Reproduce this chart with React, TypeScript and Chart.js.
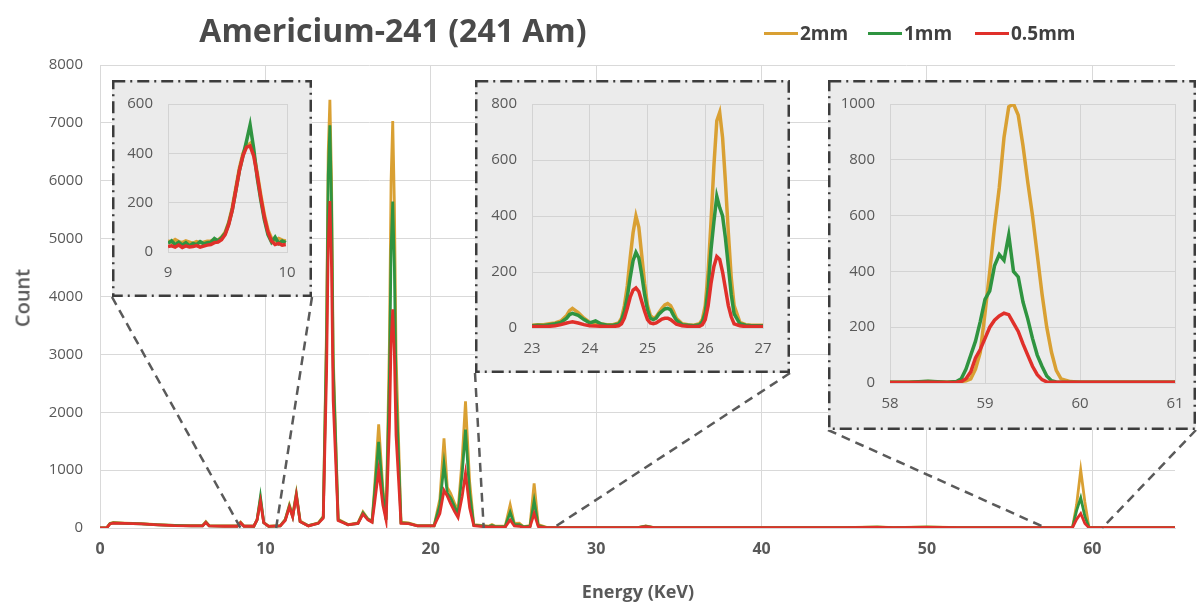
import React, { useEffect, useRef } from 'react';
import { Chart, registerables } from 'chart.js';
Chart.register(...registerables);

// ---------- Main spectrum (energy in keV, counts) ----------
const energyKeV = [
  0, 0.4, 0.6, 0.8, 1.5, 2.5, 3.5, 4.5, 5.5, 6.2,
  6.4, 6.6, 7.5, 8.3, 8.5, 8.7, 9.3, 9.5, 9.7, 9.9,
  10.2, 10.9, 11.2, 11.45, 11.65, 11.87, 12.1, 12.6, 13.2, 13.5,
  13.7, 13.8, 13.9, 14.0, 14.1, 14.4, 15.0, 15.6, 15.9, 16.2,
  16.45, 16.6, 16.85, 17.1, 17.3, 17.5, 17.6, 17.7, 17.8, 17.9,
  18.2, 18.65, 19.2, 20.2, 20.55, 20.8, 21.0, 21.2, 21.45, 21.65,
  21.9, 22.1, 22.35, 22.6, 23.5, 23.7, 23.9, 24.5, 24.8, 25.05,
  25.35, 25.6, 26.0, 26.25, 26.5, 27.0, 32.5, 33.0, 33.5, 45,
  47, 48, 50, 52, 55, 58.8, 59.05, 59.3, 59.55, 59.8,
  65,
];
const count2mm = [
  0, 0, 80, 95, 85, 75, 60, 45, 40, 40,
  110, 40, 35, 35, 100, 35, 30, 150, 500, 100,
  30, 40, 150, 400, 220, 600, 120, 40, 90, 200,
  3500, 6500, 7400, 6000, 3000, 150, 60, 90, 280, 160,
  120, 700, 1790, 700, 150, 3200, 6000, 7030, 5600, 3000,
  100, 90, 40, 40, 500, 1550, 700, 600, 420, 300,
  1200, 2190, 800, 60, 30, 60, 30, 30, 400, 80,
  85, 25, 40, 770, 60, 10, 5, 35, 5, 5,
  20, 5, 20, 5, 5, 5, 400, 1000, 450, 10,
  5,
];
const count1mm = [
  0, 0, 75, 90, 80, 70, 55, 45, 38, 38,
  100, 38, 32, 32, 90, 32, 30, 140, 540, 90,
  28, 35, 140, 380, 200, 580, 110, 40, 80, 190,
  3300, 6100, 6960, 5600, 2800, 140, 55, 80, 260, 150,
  110, 600, 1490, 600, 140, 2600, 4800, 5640, 4500, 2400,
  90, 80, 35, 35, 400, 1100, 600, 520, 360, 250,
  950, 1700, 600, 50, 25, 45, 25, 25, 270, 60,
  60, 20, 30, 470, 40, 8, 5, 30, 5, 5,
  15, 5, 15, 5, 5, 5, 300, 520, 200, 8,
  5,
];
const count05mm = [
  0, 0, 70, 85, 80, 70, 55, 40, 35, 35,
  95, 35, 30, 30, 90, 30, 30, 140, 460, 90,
  28, 35, 130, 360, 190, 560, 110, 35, 80, 170,
  2700, 4900, 5650, 4500, 2200, 130, 55, 80, 240, 140,
  100, 420, 1000, 400, 130, 1750, 3200, 3780, 3000, 1600,
  80, 75, 35, 35, 250, 650, 550, 420, 280, 180,
  550, 950, 350, 40, 15, 25, 15, 15, 140, 35,
  30, 10, 20, 250, 25, 5, 5, 25, 5, 5,
  10, 5, 12, 5, 5, 5, 150, 250, 80, 5,
  5,
];

// ---------- Inset 1: 9–10 keV ----------
const inset1Energy = [
  9.00, 9.03, 9.06, 9.09, 9.12, 9.15, 9.18, 9.21, 9.24, 9.27,
  9.30, 9.33, 9.36, 9.39, 9.42, 9.45, 9.48, 9.51, 9.54, 9.57,
  9.60, 9.63, 9.66, 9.69, 9.72, 9.75, 9.78, 9.81, 9.84, 9.87,
  9.90, 9.93, 9.96, 9.99,
];
const inset1Count2mm = [
  45, 40, 50, 42, 38, 45, 40, 35, 42, 38,
  40, 44, 45, 50, 48, 60, 80, 120, 180, 260,
  340, 400, 430, 440, 400, 320, 230, 150, 90, 55,
  45, 55, 48, 45,
];
const inset1Count1mm = [
  35, 45, 30, 40, 28, 38, 25, 35, 30, 42,
  33, 38, 40, 55, 45, 58, 75, 115, 170, 250,
  330, 390, 450, 515, 420, 300, 210, 130, 70, 40,
  60, 35, 45, 38,
];
const inset1Count05mm = [
  22, 25, 20, 28, 18, 25, 20, 22, 26, 20,
  24, 28, 30, 38, 40, 50, 70, 110, 170, 250,
  330, 390, 425, 430, 390, 310, 220, 140, 80, 45,
  30, 35, 28, 30,
];

// ---------- Inset 2: 23–27 keV ----------
const inset2Energy = [
  23.0, 23.1, 23.2, 23.3, 23.4, 23.5, 23.6, 23.65, 23.7, 23.8,
  23.9, 24.0, 24.1, 24.2, 24.3, 24.4, 24.5, 24.55, 24.6, 24.65,
  24.7, 24.75, 24.8, 24.85, 24.9, 24.95, 25.0, 25.05, 25.1, 25.15,
  25.2, 25.25, 25.3, 25.35, 25.4, 25.45, 25.5, 25.6, 25.7, 25.8,
  25.9, 25.95, 26.0, 26.05, 26.1, 26.15, 26.2, 26.25, 26.3, 26.35,
  26.4, 26.45, 26.5, 26.6, 26.7, 26.8, 26.9, 27.0,
];
const inset2Count2mm = [
  10, 12, 12, 15, 18, 25, 45, 62, 70, 55,
  35, 20, 15, 14, 12, 12, 18, 35, 80, 150,
  250, 340, 400, 360, 260, 160, 80, 45, 35, 40,
  55, 70, 82, 87, 80, 60, 35, 15, 12, 10,
  15, 30, 80, 200, 380, 580, 740, 770, 680, 520,
  340, 180, 80, 20, 12, 10, 10, 10,
];
const inset2Count1mm = [
  8, 10, 9, 12, 15, 20, 35, 48, 52, 45,
  30, 18, 25, 14, 10, 10, 14, 28, 60, 110,
  180, 240, 270, 250, 190, 120, 65, 35, 30, 35,
  50, 60, 68, 70, 65, 45, 28, 12, 10, 8,
  12, 22, 55, 140, 280, 380, 470, 430, 400, 320,
  220, 120, 50, 15, 10, 8, 8, 8,
];
const inset2Count05mm = [
  5, 5, 5, 6, 8, 12, 18, 20, 22, 18,
  12, 8, 7, 6, 5, 5, 8, 15, 35, 70,
  110, 135, 143, 130, 95, 60, 30, 18, 15, 18,
  25, 32, 35, 35, 30, 22, 14, 8, 6, 5,
  6, 12, 30, 80, 160, 220, 255, 245, 200, 140,
  80, 40, 15, 8, 5, 5, 5, 5,
];

// ---------- Inset 3: 58–61 keV ----------
const inset3Energy = [
  58.0, 58.2, 58.4, 58.6, 58.7, 58.75, 58.8, 58.85, 58.9, 58.95,
  59.0, 59.05, 59.1, 59.15, 59.2, 59.25, 59.3, 59.35, 59.4, 59.45,
  59.5, 59.55, 59.6, 59.65, 59.7, 59.75, 59.8, 59.9, 60.0, 60.5,
  61.0,
];
const inset3Count2mm = [
  3, 3, 5, 3, 3, 5, 8, 15, 50, 110,
  250, 400, 560, 700, 880, 990, 1000, 960, 850, 720,
  600, 460, 320, 200, 110, 45, 15, 5, 3, 3,
  3,
];
const inset3Count1mm = [
  3, 3, 6, 3, 5, 15, 50, 100, 150, 220,
  300, 330, 420, 460, 440, 530, 400, 380, 290, 230,
  160, 100, 60, 25, 8, 4, 3, 3, 3, 3,
  3,
];
const inset3Count05mm = [
  2, 2, 3, 2, 3, 5, 15, 40, 90, 120,
  160, 200, 225, 240, 250, 245, 215, 185, 140, 100,
  60, 30, 12, 4, 3, 3, 3, 3, 3, 3,
  3,
];

const seriesNames = ['2mm', '1mm', '0.5mm'];
const seriesColors = ['#D9A033', '#2F9440', '#E0302A'];

const mainXRange = [0, 65];
const mainYRange = [0, 8000];
const inset1Range = { x: [9, 10], y: [0, 600] };
const inset2Range = { x: [23, 27], y: [0, 800] };
const inset3Range = { x: [58, 61], y: [0, 1000] };
// energies where the dashed zoom connectors meet the main axis
const inset1Anchor = [8.5, 10.65];
const inset2Anchor = [23.2, 27.4];
const inset3Anchor = [57.2, 60.6];

const FONT = '"Open Sans", "DejaVu Sans", sans-serif';
const TEXT = '#595959';

type Box = { left: number; top: number; width: number; height: number };
type Pad = { left: number; right: number; top: number; bottom: number };

const insets = [
  {
    energy: inset1Energy, c: [inset1Count2mm, inset1Count1mm, inset1Count05mm], range: inset1Range, anchor: inset1Anchor,
    box: { left: 112, top: 80, width: 200, height: 217 } as Box, pad: { left: 56, right: 25, top: 20, bottom: 45 } as Pad,
  },
  {
    energy: inset2Energy, c: [inset2Count2mm, inset2Count1mm, inset2Count05mm], range: inset2Range, anchor: inset2Anchor,
    box: { left: 475, top: 80, width: 315, height: 293 } as Box, pad: { left: 57, right: 27, top: 19, bottom: 45 } as Pad,
  },
  {
    energy: inset3Energy, c: [inset3Count2mm, inset3Count1mm, inset3Count05mm], range: inset3Range, anchor: inset3Anchor,
    box: { left: 828, top: 80, width: 368, height: 350 } as Box, pad: { left: 62, right: 21, top: 20, bottom: 47 } as Pad,
  },
];

const pts = (xs: number[], ys: number[]) => xs.map((x, i) => ({ x, y: ys[i] }));
const plainTick = (v: any) => String(v);

// dataset 0 is drawn last (on top): order red, green, orange
function buildDatasets(xs: number[], cs: number[][], width: number) {
  return [2, 1, 0].map((k) => ({
    label: seriesNames[k],
    data: pts(xs, cs[k]),
    borderColor: seriesColors[k],
    backgroundColor: seriesColors[k],
    borderWidth: width,
    pointRadius: 0,
    tension: 0,
    fill: false,
  }));
}

export default function App() {
  const mainRef = useRef<HTMLCanvasElement>(null);
  const insetRefs = useRef<(HTMLCanvasElement | null)[]>([]);

  useEffect(() => {
    const charts: Chart[] = [];
    const connectorPlugin = {
      id: 'connectors',
      afterDraw(chart: any) {
        const { ctx } = chart;
        const xs = chart.scales.x;
        const ys = chart.scales.y;
        ctx.save();
        ctx.strokeStyle = '#5a5a5a';
        ctx.lineWidth = 2.5;
        ctx.setLineDash([9, 6]);
        insets.forEach((s) => {
          const bl = [s.box.left, s.box.top + s.box.height];
          const br = [s.box.left + s.box.width, s.box.top + s.box.height];
          const y0 = ys.getPixelForValue(0);
          ctx.beginPath();
          ctx.moveTo(bl[0], bl[1]);
          ctx.lineTo(xs.getPixelForValue(s.anchor[0]), y0);
          ctx.stroke();
          ctx.beginPath();
          ctx.moveTo(br[0], br[1]);
          ctx.lineTo(xs.getPixelForValue(s.anchor[1]), y0);
          ctx.stroke();
        });
        ctx.restore();
      },
    };

    if (mainRef.current) {
      charts.push(
        new Chart(mainRef.current, {
          type: 'line',
          data: { datasets: buildDatasets(energyKeV, [count2mm, count1mm, count05mm], 2.8) as any },
          options: {
            animation: false,
            responsive: false,
            layout: { padding: { left: 0, right: 22, top: 65, bottom: 0 } },
            plugins: { legend: { display: false }, tooltip: { enabled: false }, title: { display: false } },
            scales: {
              x: {
                type: 'linear',
                min: mainXRange[0],
                max: mainXRange[1],
                ticks: { stepSize: 10, includeBounds: false, color: TEXT, font: { family: FONT, size: 16, weight: 'bold' }, padding: 12, maxRotation: 0, callback: plainTick },
                grid: { color: '#D9D9D9', drawTicks: false },
                border: { color: '#D9D9D9' },
                afterFit: (s: any) => { s.height = 74; },
              },
              y: {
                min: mainYRange[0],
                max: mainYRange[1],
                ticks: { stepSize: 1000, color: TEXT, font: { family: FONT, size: 15 }, padding: 17, callback: plainTick },
                grid: { color: '#D9D9D9', drawTicks: false },
                border: { color: '#D9D9D9' },
                afterFit: (s: any) => { s.width = 100; },
              },
            },
          } as any,
          plugins: [connectorPlugin],
        })
      );
    }

    insets.forEach((s, i) => {
      const cv = insetRefs.current[i];
      if (!cv) return;
      const frame = {
        id: 'frame' + i,
        beforeDraw(chart: any) {
          const { ctx, width, height } = chart;
          ctx.save();
          ctx.fillStyle = '#EBEBEB';
          ctx.fillRect(0, 0, width, height);
          ctx.restore();
        },
        afterDraw(chart: any) {
          const { ctx, width, height } = chart;
          ctx.save();
          ctx.strokeStyle = '#3c3c3c';
          ctx.lineWidth = 2.5;
          ctx.setLineDash([12, 5, 2, 5]);
          ctx.strokeRect(1.25, 1.25, width - 2.5, height - 2.5);
          ctx.restore();
        },
      };
      charts.push(
        new Chart(cv, {
          type: 'line',
          data: { datasets: buildDatasets(s.energy, s.c, 3.5) as any },
          options: {
            animation: false,
            responsive: false,
            layout: { padding: { left: 0, right: s.pad.right, top: s.pad.top, bottom: 0 } },
            plugins: { legend: { display: false }, tooltip: { enabled: false }, title: { display: false } },
            scales: {
              x: {
                type: 'linear',
                min: s.range.x[0],
                max: s.range.x[1],
                ticks: { stepSize: 1, color: TEXT, font: { family: FONT, size: 15 }, padding: 12, maxRotation: 0, callback: plainTick },
                grid: { color: '#D3D3D3', drawTicks: false },
                border: { color: '#D3D3D3' },
                afterFit: (sc: any) => { sc.height = s.pad.bottom; },
              },
              y: {
                min: s.range.y[0],
                max: s.range.y[1],
                ticks: { stepSize: 200, color: TEXT, font: { family: FONT, size: 15 }, padding: 15, callback: plainTick },
                grid: { color: '#D3D3D3', drawTicks: false },
                border: { color: '#D3D3D3' },
                afterFit: (sc: any) => { sc.width = s.pad.left; },
              },
            },
          } as any,
          plugins: [frame],
        })
      );
    });

    return () => charts.forEach((c) => c.destroy());
  }, []);

  const legendX = [764, 868, 975];

  return (
    <div style={{ position: 'fixed', left: 0, top: 0, width: 1197, height: 602, background: '#fff', overflow: 'hidden', fontFamily: FONT }}>
      <canvas ref={mainRef} width={1197} height={602} style={{ position: 'absolute', left: 0, top: 0 }} />
      {insets.map((s, i) => (
        <canvas
          key={i}
          ref={(el) => { insetRefs.current[i] = el; }}
          width={s.box.width}
          height={s.box.height}
          style={{ position: 'absolute', left: s.box.left, top: s.box.top }}
        />
      ))}
      <div style={{ position: 'absolute', left: 393, top: 29, transform: 'translate(-50%, -50%)', font: `bold 32px ${FONT}`, color: '#4a4a4a', whiteSpace: 'nowrap' }}>
        Americium-241 (241 Am)
      </div>
      {seriesNames.map((n, i) => (
        <div key={n} style={{ position: 'absolute', left: legendX[i], top: 33, transform: 'translateY(-50%)', display: 'flex', alignItems: 'center', whiteSpace: 'nowrap' }}>
          <span style={{ display: 'inline-block', width: 34, height: 3, background: seriesColors[i], marginRight: 2 }} />
          <span style={{ font: `bold 19px ${FONT}`, color: '#404040' }}>{n}</span>
        </div>
      ))}
      <div style={{ position: 'absolute', left: 22, top: 298, transform: 'translate(-50%, -50%) rotate(-90deg)', font: `600 20px ${FONT}`, color: TEXT, whiteSpace: 'nowrap' }}>
        Count
      </div>
      <div style={{ position: 'absolute', left: 638, top: 591, transform: 'translate(-50%, -50%)', font: `bold 18px ${FONT}`, color: TEXT, whiteSpace: 'nowrap' }}>
        Energy (KeV)
      </div>
    </div>
  );
}
